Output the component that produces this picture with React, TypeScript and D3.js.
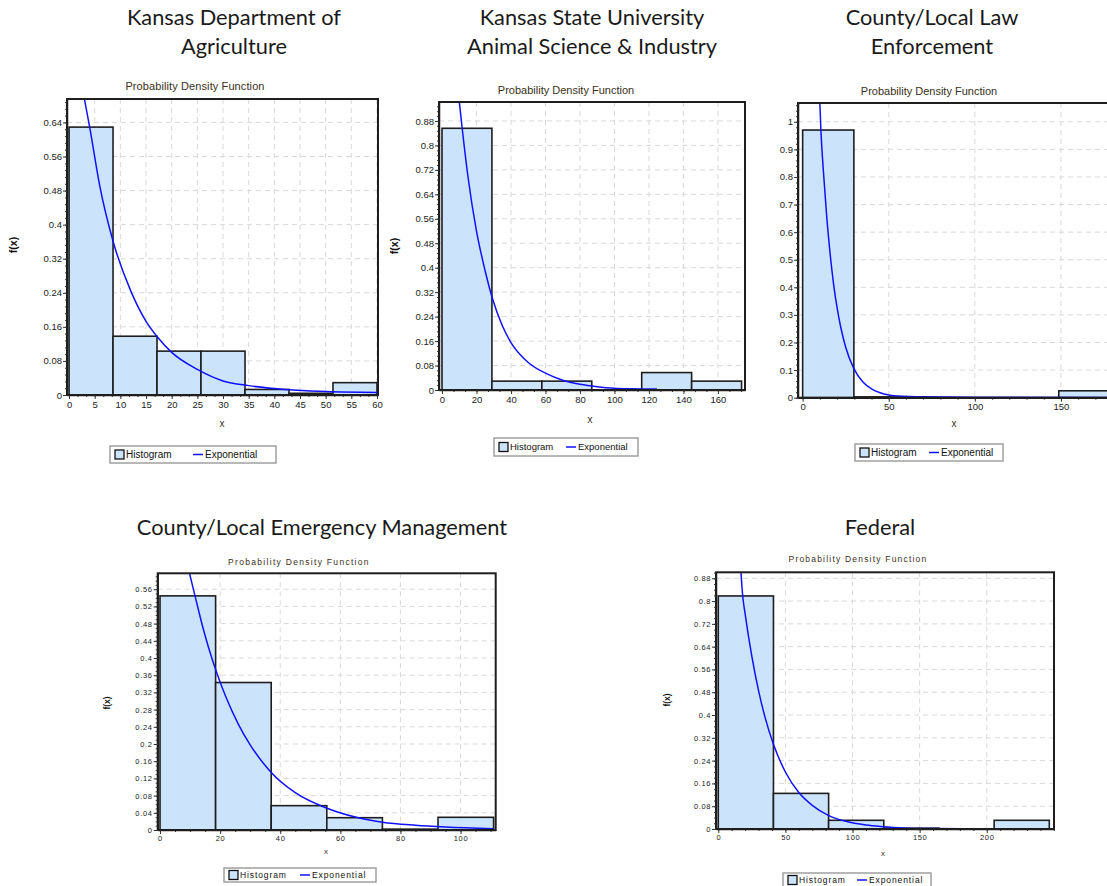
import React, { useEffect, useRef } from 'react';
import * as d3 from 'd3';

// Kansas Department of Agriculture
const agEdges = [0, 8.57, 17.14, 25.71, 34.29, 42.86, 51.43, 60];
const agDensity = [0.629, 0.138, 0.103, 0.103, 0.013, 0.004, 0.029];
const agCurveX = [2.6, 4, 6, 8.6, 12, 15, 17.3, 20, 25, 30, 35, 40, 50, 60];
const agCurveY = [0.72, 0.63, 0.49, 0.36, 0.245, 0.173, 0.135, 0.1, 0.06, 0.033, 0.022, 0.015, 0.008, 0.006];
const agXTicks = [0, 5, 10, 15, 20, 25, 30, 35, 40, 45, 50, 55, 60];
const agYTicks = [0, 0.08, 0.16, 0.24, 0.32, 0.4, 0.48, 0.56, 0.64];

// Kansas State University Animal Science & Industry
const ksuEdges = [0, 28.95, 57.9, 86.85, 115.8, 144.75, 173.7];
const ksuDensity = [0.856, 0.029, 0.029, 0, 0.057, 0.029];
const ksuCurveX = [9.5, 11.7, 15, 20, 25, 29.2, 35, 40, 50, 60, 70, 80, 90, 100, 110, 124.6];
const ksuCurveY = [0.97, 0.856, 0.7, 0.52, 0.39, 0.3, 0.21, 0.155, 0.09, 0.055, 0.032, 0.019, 0.011, 0.006, 0.004, 0.003];
const ksuXTicks = [0, 20, 40, 60, 80, 100, 120, 140, 160];
const ksuYTicks = [0, 0.08, 0.16, 0.24, 0.32, 0.4, 0.48, 0.56, 0.64, 0.72, 0.8, 0.88];

// County/Local Law Enforcement
const lawEdges = [0, 29.75, 59.5, 89.25, 119, 148.75, 178.5];
const lawDensity = [0.97, 0.003, 0, 0, 0, 0.025];
const lawCurveX = [9.8, 10.6, 12, 14, 16, 18, 20, 22, 25, 29.6, 35, 40, 45, 50, 55, 70, 100, 178.5];
const lawCurveY = [1.1, 0.97, 0.825, 0.654, 0.519, 0.41, 0.326, 0.259, 0.183, 0.107, 0.057, 0.032, 0.018, 0.01, 0.006, 0.003, 0.002, 0.001];
const lawXTicks = [0, 50, 100, 150];
const lawYTicks = [0, 0.1, 0.2, 0.3, 0.4, 0.5, 0.6, 0.7, 0.8, 0.9, 1];

// County/Local Emergency Management
const emEdges = [0, 18.5, 37, 55.5, 74, 92.5, 111];
const emDensity = [0.5445, 0.343, 0.0566, 0.0286, 0.002, 0.0295];
const emCurveX = [9.0, 11.65, 14, 16, 18.9, 22, 26, 30, 37, 45, 55.8, 65, 74, 85, 95, 111];
const emCurveY = [0.62, 0.5445, 0.478, 0.428, 0.365, 0.308, 0.247, 0.198, 0.134, 0.087, 0.05, 0.03, 0.018, 0.011, 0.007, 0.003];
const emXTicks = [0, 20, 40, 60, 80, 100];
const emYTicks = [0, 0.04, 0.08, 0.12, 0.16, 0.2, 0.24, 0.28, 0.32, 0.36, 0.4, 0.44, 0.48, 0.52, 0.56];

// Federal
const fedEdges = [0, 41.1, 82.2, 123.3, 164.4, 205.5, 246.6];
const fedDensity = [0.818, 0.125, 0.0305, 0.003, 0, 0.0305];
const fedCurveX = [16.5, 18.2, 20, 25, 30, 35, 41.3, 50, 60, 70, 82, 95, 110, 123.7, 140, 160, 200, 246.6];
const fedCurveY = [0.93, 0.818, 0.755, 0.606, 0.486, 0.389, 0.295, 0.2, 0.128, 0.083, 0.048, 0.027, 0.014, 0.008, 0.003, 0.002, 0.001, 0.001];
const fedXTicks = [0, 50, 100, 150, 200];
const fedYTicks = [0, 0.08, 0.16, 0.24, 0.32, 0.4, 0.48, 0.56, 0.64, 0.72, 0.8, 0.88];

const chartTitle = 'Probability Density Function';
const legendLabels = ['Histogram', 'Exponential'];

const W = 1107;
const H = 886;
const BAR_FILL = '#cce4fb';
const CURVE = '#1010ff';
const SMALL_FONT = '"Liberation Sans", Arial, sans-serif';

const panels = [
  {
    heading: ['Kansas Department of', 'Agriculture'], headX: 234, headY: 25,
    edges: agEdges, density: agDensity, cx: agCurveX, cy: agCurveY, xTicks: agXTicks, yTicks: agYTicks,
    left: 67, right: 378, top: 99, bottom: 395, xDom: [-0.4, 60.2], yMax: 0.695,
    xMinor: 3, yMinor: 5, fs: 9.5, ls: 0, titleFs: 11, titleLs: 0.1, titleX: 195, titleY: 90,
    yLab: [17, 245], xLab: [222, 427],
    legend: { x: 110, y: 446, w: 166, h: 17, fs: 10, ls: 0 },
  },
  {
    heading: ['Kansas State University', 'Animal Science & Industry'], headX: 592, headY: 25,
    edges: ksuEdges, density: ksuDensity, cx: ksuCurveX, cy: ksuCurveY, xTicks: ksuXTicks, yTicks: ksuYTicks,
    left: 439, right: 745, top: 102, bottom: 390, xDom: [-1.74, 175.7], yMax: 0.942,
    xMinor: 3, yMinor: 5, fs: 9.5, ls: 0, titleFs: 11, titleLs: 0, titleX: 566, titleY: 94,
    yLab: [398, 246], xLab: [590, 423],
    legend: { x: 494, y: 438, w: 144, h: 18, fs: 9.5, ls: 0 },
  },
  {
    heading: ['County/Local Law', 'Enforcement'], headX: 932, headY: 25,
    edges: lawEdges, density: lawDensity, cx: lawCurveX, cy: lawCurveY, xTicks: lawXTicks, yTicks: lawYTicks,
    left: 798, right: 1110, top: 103, bottom: 397.7, xDom: [-2.7, 178.5], yMax: 1.068,
    xMinor: 5, yMinor: 5, fs: 9.5, ls: 0, titleFs: 11, titleLs: 0, titleX: 929, titleY: 95,
    yLab: null, xLab: [954, 427],
    legend: { x: 855, y: 444, w: 148, h: 17, fs: 10, ls: 0 },
  },
  {
    heading: ['County/Local Emergency Management'], headX: 322, headY: 535,
    edges: emEdges, density: emDensity, cx: emCurveX, cy: emCurveY, xTicks: emXTicks, yTicks: emYTicks,
    left: 157.7, right: 495.7, top: 573.3, bottom: 830, xDom: [-0.77, 111.7], yMax: 0.597,
    xMinor: 4, yMinor: 4, fs: 7.5, ls: 0.7, titleFs: 8.5, titleLs: 1.3, titleX: 299, titleY: 565,
    yLab: [110, 703], xLab: [326, 854],
    legend: { x: 224, y: 868, w: 152, h: 14, fs: 8.5, ls: 0.9 },
  },
  {
    heading: ['Federal'], headX: 880, headY: 535,
    edges: fedEdges, density: fedDensity, cx: fedCurveX, cy: fedCurveY, xTicks: fedXTicks, yTicks: fedYTicks,
    left: 716, right: 1054, top: 572.3, bottom: 829, xDom: [-1.7, 250.1], yMax: 0.901,
    xMinor: 5, yMinor: 4, fs: 7.5, ls: 0.6, titleFs: 8.5, titleLs: 1.2, titleX: 858, titleY: 562,
    yLab: [670, 700], xLab: [883, 856],
    legend: { x: 783, y: 873, w: 148, h: 14, fs: 8.5, ls: 0.9 },
  },
];

const fmt = (d: number) => `${+(+d).toFixed(3)}`;

function drawPanel(svg: any, p: any, i: number) {
  const x = d3.scaleLinear().domain(p.xDom).range([p.left, p.right]);
  const y = d3.scaleLinear().domain([0, p.yMax]).range([p.bottom, p.top]);
  const g = svg.append('g');

  // heading above each chart
  p.heading.forEach((t: string, k: number) => {
    g.append('text')
      .attr('x', p.headX).attr('y', p.headY + k * 29)
      .attr('text-anchor', 'middle')
      .attr('font-family', 'Lato, "Noto Sans", sans-serif')
      .attr('font-size', 21.8)
      .attr('fill', '#1a1a1a')
      .text(t);
  });

  g.append('text')
    .attr('x', p.titleX).attr('y', p.titleY)
    .attr('text-anchor', 'middle')
    .attr('font-family', SMALL_FONT)
    .attr('font-size', p.titleFs)
    .attr('letter-spacing', p.titleLs)
    .attr('fill', '#3a3020')
    .text(chartTitle);

  // grid
  const grid = g.append('g').attr('stroke', '#d9d9d9').attr('stroke-dasharray', '5,4');
  grid.selectAll('line.gx').data(p.xTicks.filter((v: number) => v > 0)).join('line')
    .attr('class', 'gx')
    .attr('x1', (d: number) => x(d)).attr('x2', (d: number) => x(d))
    .attr('y1', p.top).attr('y2', p.bottom);
  grid.selectAll('line.gy').data(p.yTicks.filter((v: number) => v > 0)).join('line')
    .attr('class', 'gy')
    .attr('x1', p.left).attr('x2', p.right)
    .attr('y1', (d: number) => y(d)).attr('y2', (d: number) => y(d));

  // histogram
  g.append('g').selectAll('rect').data(p.density).join('rect')
    .attr('x', (d: number, k: number) => x(p.edges[k]))
    .attr('width', (d: number, k: number) => x(p.edges[k + 1]) - x(p.edges[k]))
    .attr('y', (d: number) => y(d))
    .attr('height', (d: number) => y(0) - y(d))
    .attr('fill', BAR_FILL)
    .attr('stroke', '#1e1e1e')
    .attr('stroke-width', 1.6);

  // exponential fit
  const clipId = `clip-${i}`;
  g.append('clipPath').attr('id', clipId).append('rect')
    .attr('x', p.left).attr('y', p.top)
    .attr('width', p.right - p.left).attr('height', p.bottom - p.top);
  const pts = p.cx.map((v: number, k: number) => [v, p.cy[k]]);
  const line = d3.line().x((d: any) => x(d[0])).y((d: any) => y(d[1])).curve(d3.curveMonotoneX);
  g.append('path')
    .attr('d', line(pts))
    .attr('clip-path', `url(#${clipId})`)
    .attr('fill', 'none')
    .attr('stroke', CURVE)
    .attr('stroke-width', 1.5);

  // frame
  g.append('rect')
    .attr('x', p.left).attr('y', p.top)
    .attr('width', p.right - p.left).attr('height', p.bottom - p.top)
    .attr('fill', 'none').attr('stroke', '#1e1e1e').attr('stroke-width', 2);

  // minor ticks
  const xStep = p.xTicks[1] - p.xTicks[0];
  const yStep = p.yTicks[1] - p.yTicks[0];
  const xMinorVals = d3.range(0, p.xDom[1] + 1e-9, xStep / p.xMinor);
  const yMinorVals = d3.range(0, p.yMax + 1e-9, yStep / p.yMinor);
  g.append('g').attr('transform', `translate(0,${p.bottom})`)
    .call(d3.axisBottom(x).tickValues(xMinorVals).tickSize(2).tickSizeOuter(0).tickFormat(() => ''))
    .call((s: any) => s.select('.domain').remove());
  g.append('g').attr('transform', `translate(${p.left},0)`)
    .call(d3.axisLeft(y).tickValues(yMinorVals).tickSize(2).tickSizeOuter(0).tickFormat(() => ''))
    .call((s: any) => s.select('.domain').remove());

  // major axes
  const xa = g.append('g').attr('transform', `translate(0,${p.bottom})`)
    .call(d3.axisBottom(x).tickValues(p.xTicks).tickSize(4).tickSizeOuter(0).tickPadding(2).tickFormat(fmt as any));
  const ya = g.append('g').attr('transform', `translate(${p.left},0)`)
    .call(d3.axisLeft(y).tickValues(p.yTicks).tickSize(4).tickSizeOuter(0).tickPadding(1).tickFormat(fmt as any));
  [xa, ya].forEach((a: any) => {
    a.selectAll('.domain').attr('stroke', '#1e1e1e').attr('stroke-width', 1.5);
    a.selectAll('text')
      .attr('font-family', SMALL_FONT)
      .attr('font-size', p.fs)
      .attr('letter-spacing', p.ls)
      .attr('fill', '#222');
  });
  g.selectAll('.tick line').attr('stroke', '#333');

  // axis labels
  g.append('text')
    .attr('x', p.xLab[0]).attr('y', p.xLab[1])
    .attr('text-anchor', 'middle')
    .attr('font-family', SMALL_FONT).attr('font-size', p.fs + 0.5)
    .attr('fill', '#3a3020')
    .text('x');
  if (p.yLab) {
    g.append('text')
      .attr('transform', `translate(${p.yLab[0]},${p.yLab[1]}) rotate(-90)`)
      .attr('text-anchor', 'middle')
      .attr('font-family', SMALL_FONT).attr('font-size', p.fs + 1)
      .attr('font-weight', 'bold')
      .attr('fill', '#111')
      .text('f(x)');
  }

  // legend
  const L = p.legend;
  const lg = g.append('g').attr('font-family', SMALL_FONT).attr('font-size', L.fs).attr('fill', '#111');
  lg.append('rect')
    .attr('x', L.x).attr('y', L.y).attr('width', L.w).attr('height', L.h)
    .attr('fill', '#fff').attr('stroke', '#a0a0a0').attr('stroke-width', 1.5);
  const sw = Math.min(9, L.h - 5);
  const mid = L.y + L.h / 2;
  lg.append('rect')
    .attr('x', L.x + 5).attr('y', mid - sw / 2).attr('width', sw).attr('height', sw)
    .attr('fill', BAR_FILL).attr('stroke', '#111').attr('stroke-width', 1.3);
  lg.append('text').attr('x', L.x + 7 + sw).attr('y', mid + L.fs * 0.36)
    .attr('letter-spacing', L.ls).text(legendLabels[0]);
  const lx = L.x + L.w * 0.5;
  lg.append('line')
    .attr('x1', lx).attr('x2', lx + 10).attr('y1', mid).attr('y2', mid)
    .attr('stroke', CURVE).attr('stroke-width', 1.5);
  lg.append('text').attr('x', lx + 12).attr('y', mid + L.fs * 0.36)
    .attr('letter-spacing', L.ls).text(legendLabels[1]);
}

const App = () => {
  const svgRef = useRef<SVGSVGElement>(null);

  useEffect(() => {
    const svg = d3.select(svgRef.current);
    svg.selectAll('*').remove();
    svg.append('rect').attr('width', W).attr('height', H).attr('fill', '#fff');
    panels.forEach((p, i) => drawPanel(svg, p, i));
  }, []);

  return (
    <div style={{ position: 'absolute', left: 0, top: 0 }}>
      <svg ref={svgRef} width={W} height={H} style={{ display: 'block' }} />
    </div>
  );
};

export default App;
